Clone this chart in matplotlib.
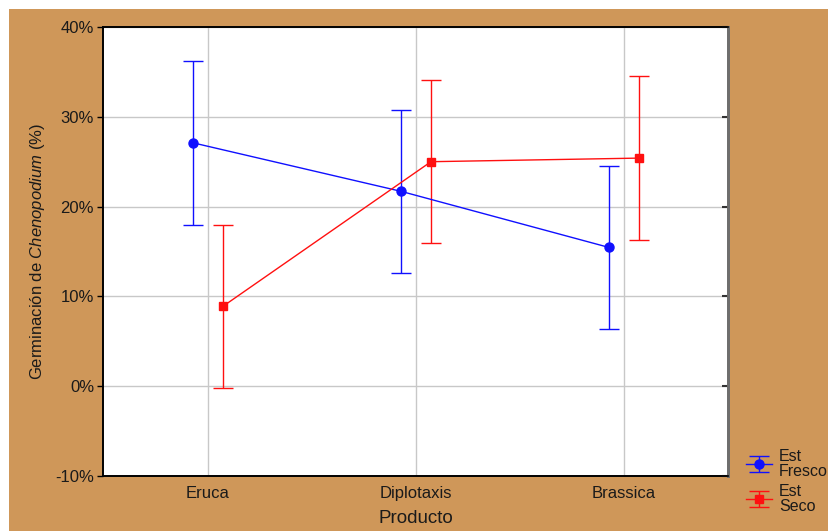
import matplotlib.pyplot as plt
from matplotlib.patches import Rectangle
import numpy as np

plt.rcParams['font.family'] = ['Liberation Sans', 'DejaVu Sans']
plt.rcParams['mathtext.fontset'] = 'custom'
plt.rcParams['mathtext.rm'] = 'Liberation Sans'
plt.rcParams['mathtext.it'] = 'Liberation Sans:italic'

productos = ['Eruca', 'Diplotaxis', 'Brassica']
fresco = [27.1, 21.7, 15.45]
fresco_err = [9.1, 9.1, 9.05]
seco = [8.9, 25.0, 25.4]
seco_err = [9.1, 9.1, 9.1]
yticks = [-10, 0, 10, 20, 30, 40]

tan = '#cf9759'
txt = '#1a1a1a'

fig = plt.figure(figsize=(8.29, 5.31), dpi=100)
fig.patch.set_facecolor('white')
# tan panel behind everything, leaving thin white strip top/left
fig.add_artist(Rectangle((9 / 829, 0), 1, 1 - 9 / 531, transform=fig.transFigure,
                         facecolor=tan, edgecolor='none', zorder=-10))

ax = fig.add_axes([103 / 829, 1 - 476 / 531, 625 / 829, 449 / 531])
ax.set_facecolor('white')

x = np.arange(len(productos))
off = 0.072
ax.errorbar(x - off, fresco, yerr=fresco_err, color='#1010ff', marker='o', ms=6.5,
            lw=1, elinewidth=1, capsize=7, capthick=1, label='Est\nFresco', zorder=3)
ax.errorbar(x + off, seco, yerr=seco_err, color='#ff1010', marker='s', ms=6,
            lw=1, elinewidth=1, capsize=7, capthick=1, label='Est\nSeco', zorder=3)

ax.set_xlim(-0.505, 2.5)
ax.set_ylim(-10, 40)
ax.set_xticks(x)
ax.set_xticklabels(productos, fontsize=12, color=txt)
ax.set_yticks(yticks)
ax.set_yticklabels([f'{v}%' for v in yticks], fontsize=12, color=txt)
ax.tick_params(axis='x', length=0, pad=7)
ax.tick_params(axis='y', length=4, width=1, direction='out', pad=2.4)
ax.grid(True, color='#c8c8c8', lw=1)
ax.set_axisbelow(True)

# small inward ticks on the right spine
ax2 = ax.twinx()
ax2.set_ylim(ax.get_ylim())
ax2.set_yticks(yticks)
ax2.tick_params(axis='y', direction='in', length=4, width=1.5, labelright=False, color='#333333')

for a in (ax, ax2):
    for s in ['top', 'left', 'bottom']:
        a.spines[s].set_color('black')
        a.spines[s].set_linewidth(1.2)
    a.spines['right'].set_color('#6e6e6e')
    a.spines['right'].set_linewidth(2)

ax.set_xlabel('Producto', fontsize=13.5, color=txt, labelpad=7)
ax.set_ylabel('Germinación de $\\mathit{Chenopodium}$ (%)', fontsize=12, color=txt, labelpad=6)

h, l = ax.get_legend_handles_labels()
leg = fig.legend(h, l, loc='upper left', bbox_to_anchor=(735 / 829, 1 - 438 / 531), frameon=False,
                 fontsize=11.5, handlelength=1.6, handletextpad=0.45, labelspacing=0.35,
                 borderpad=0.2, labelcolor=txt)
for t in leg.get_texts():
    t.set_linespacing(0.95)

fig.savefig('out.png', dpi=100, facecolor=fig.get_facecolor())
